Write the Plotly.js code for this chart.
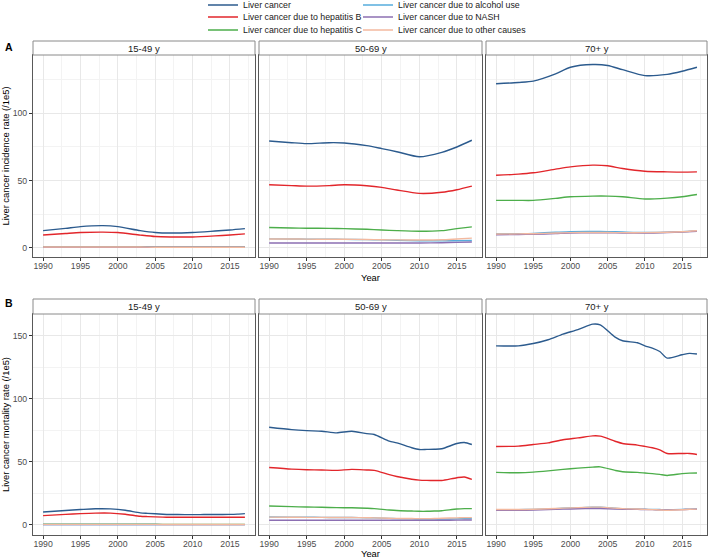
<!DOCTYPE html>
<html>
<head>
<meta charset="utf-8">
<script src="https://cdn.plot.ly/plotly-3.0.1.min.js"></script>
<style>html,body{margin:0;padding:0;background:#fff;}#chart{width:709px;height:559px;}</style>
</head>
<body>
<div id="chart"></div>
<script>
// ---------- DATA ----------
const seriesNames = ["Liver cancer", "Liver cancer due to hepatitis B", "Liver cancer due to hepatitis C",
  "Liver cancer due to alcohol use", "Liver cancer due to NASH", "Liver cancer due to other causes"];
const ageGroups = ["15-49 y", "50-69 y", "70+ y"];
const xTickLabels = [1990, 1995, 2000, 2005, 2010, 2015];

// Panel A (incidence) sampled years
const yearsA = [1990, 1993, 1995, 1998, 2000, 2003, 2005, 2007, 2010, 2013, 2015, 2017];
// 15-49 y
const incA1_liver = [12.8, 14.5, 15.8, 16.5, 15.8, 12.8, 11.4, 11.0, 11.4, 12.5, 13.3, 14.3];
const incA1_hepB  = [9.6, 10.7, 11.4, 11.7, 11.4, 9.5, 8.4, 8.1, 8.1, 8.9, 9.6, 10.4];
const incA1_hepC  = [0.8, 0.85, 0.9, 0.9, 0.9, 0.8, 0.7, 0.7, 0.7, 0.7, 0.7, 0.7];
const incA1_alc   = [0.5, 0.5, 0.5, 0.5, 0.5, 0.5, 0.4, 0.4, 0.4, 0.4, 0.4, 0.4];
const incA1_nash  = [0.4, 0.4, 0.4, 0.4, 0.4, 0.4, 0.4, 0.4, 0.4, 0.4, 0.4, 0.4];
const incA1_other = [0.6, 0.6, 0.6, 0.6, 0.6, 0.6, 0.5, 0.5, 0.5, 0.5, 0.5, 0.5];
// 50-69 y
const incA2_liver = [79.5, 78.2, 77.5, 78.2, 78.0, 76.0, 73.8, 71.5, 67.7, 71.0, 75.0, 80.0];
const incA2_hepB  = [46.9, 46.3, 45.9, 46.3, 46.9, 46.2, 45.0, 43.0, 40.5, 41.3, 43.2, 45.9];
const incA2_hepC  = [15.1, 14.8, 14.6, 14.5, 14.3, 13.8, 13.3, 12.8, 12.3, 12.8, 14.3, 15.6];
const incA2_alc   = [6.7, 6.6, 6.5, 6.4, 6.3, 6.1, 5.9, 5.6, 5.3, 5.2, 5.3, 5.5];
const incA2_nash  = [3.6, 3.6, 3.6, 3.6, 3.6, 3.6, 3.6, 3.6, 3.6, 3.8, 4.1, 4.4];
const incA2_other = [6.6, 6.6, 6.5, 6.4, 6.4, 6.2, 6.0, 5.9, 5.8, 6.0, 6.6, 7.2];
// 70+ y
const incA3_liver = [122.0, 123.0, 124.0, 129.4, 134.3, 136.3, 135.6, 132.5, 128.1, 129.0, 131.3, 134.3];
const incA3_hepB  = [54.0, 54.8, 55.8, 58.5, 60.2, 61.5, 61.0, 59.0, 57.0, 56.5, 56.3, 56.5];
const incA3_hepC  = [35.3, 35.3, 35.3, 36.8, 38.0, 38.5, 38.5, 38.0, 36.3, 37.0, 38.0, 39.7];
const incA3_alc   = [10.5, 10.6, 10.8, 11.6, 12.1, 12.2, 12.1, 11.8, 11.4, 11.6, 12.0, 12.6];
const incA3_nash  = [9.8, 9.9, 10.1, 10.6, 11.0, 11.2, 11.2, 11.1, 11.0, 11.4, 11.8, 12.4];
const incA3_other = [10.3, 10.4, 10.5, 11.0, 11.3, 11.4, 11.4, 11.3, 11.3, 11.6, 12.0, 12.7];

// Panel B (mortality) sampled years
const yearsB = [1990, 1993, 1995, 1997, 1999, 2001, 2003, 2004, 2006, 2007, 2009, 2010, 2011, 2012, 2013, 2015, 2016, 2017];
// 15-49 y
const morB1_liver = [10.3, 11.5, 12.2, 12.8, 12.7, 11.6, 9.6, 9.2, 8.5, 8.3, 8.2, 8.2, 8.2, 8.3, 8.3, 8.4, 8.6, 9.0];
const morB1_hepB  = [7.4, 8.4, 9.0, 9.4, 9.4, 8.5, 6.9, 6.6, 6.2, 6.1, 6.1, 6.1, 6.1, 6.1, 6.1, 6.1, 6.1, 6.1];
const morB1_hepC  = [0.6, 0.6, 0.6, 0.6, 0.6, 0.6, 0.6, 0.6, 0.5, 0.5, 0.5, 0.5, 0.5, 0.5, 0.5, 0.5, 0.5, 0.5];
const morB1_alc   = [0.4, 0.4, 0.4, 0.4, 0.4, 0.4, 0.4, 0.4, 0.3, 0.3, 0.3, 0.3, 0.3, 0.3, 0.3, 0.3, 0.3, 0.3];
const morB1_nash  = [0.3, 0.3, 0.3, 0.3, 0.3, 0.3, 0.3, 0.3, 0.3, 0.3, 0.3, 0.3, 0.3, 0.3, 0.3, 0.3, 0.3, 0.3];
const morB1_other = [0.5, 0.5, 0.5, 0.5, 0.5, 0.5, 0.5, 0.5, 0.4, 0.4, 0.4, 0.4, 0.4, 0.4, 0.4, 0.4, 0.4, 0.4];
// 50-69 y
const morB2_liver = [77.4, 75.5, 74.7, 74.2, 72.9, 74.2, 72.3, 71.6, 66.3, 65.0, 61.1, 59.7, 59.8, 59.9, 60.3, 64.5, 65.3, 63.7];
const morB2_hepB  = [45.5, 44.2, 43.7, 43.5, 43.2, 44.0, 43.5, 43.2, 39.8, 38.4, 36.2, 35.5, 35.3, 35.2, 35.2, 37.4, 38.0, 36.1];
const morB2_hepC  = [15.0, 14.5, 14.2, 14.0, 13.7, 13.6, 13.2, 12.9, 11.8, 11.4, 11.0, 10.8, 10.8, 11.0, 11.3, 12.6, 12.9, 12.9];
const morB2_alc   = [6.3, 6.2, 6.1, 6.0, 5.9, 5.9, 5.7, 5.6, 5.2, 5.0, 4.8, 4.6, 4.6, 4.6, 4.6, 4.8, 5.0, 5.1];
const morB2_nash  = [3.7, 3.7, 3.7, 3.7, 3.7, 3.7, 3.7, 3.7, 3.7, 3.7, 3.7, 3.7, 3.7, 3.7, 3.7, 3.8, 3.9, 3.9];
const morB2_other = [6.2, 6.1, 6.0, 6.0, 5.9, 5.9, 5.7, 5.6, 5.3, 5.2, 5.1, 5.0, 5.0, 5.1, 5.3, 5.6, 5.8, 5.8];
// 70+ y
const morB3_liver = [141.8, 141.8, 143.6, 146.6, 151.1, 154.7, 159.0, 158.4, 148.7, 145.8, 144.2, 141.8, 140.0, 137.3, 132.1, 134.7, 135.8, 135.3];
const morB3_hepB  = [62.1, 62.4, 63.7, 65.0, 67.5, 68.9, 70.5, 70.3, 66.3, 64.5, 63.2, 62.2, 61.1, 59.5, 56.6, 56.6, 56.6, 55.8];
const morB3_hepC  = [41.6, 41.3, 41.8, 42.8, 44.0, 45.0, 45.8, 46.0, 43.2, 42.1, 41.6, 41.1, 40.6, 40.0, 39.2, 40.6, 41.0, 41.1];
const morB3_alc   = [12.0, 12.1, 12.3, 12.7, 13.2, 13.6, 14.0, 14.0, 13.2, 12.8, 12.6, 12.4, 12.3, 12.2, 12.1, 12.3, 12.5, 12.6];
const morB3_nash  = [11.6, 11.6, 11.8, 12.1, 12.5, 12.8, 13.0, 13.0, 12.6, 12.4, 12.3, 12.2, 12.1, 12.0, 11.9, 12.1, 12.3, 12.4];
const morB3_other = [12.2, 12.2, 12.4, 12.8, 13.3, 13.7, 14.1, 14.1, 13.3, 12.9, 12.6, 12.3, 12.1, 11.9, 11.7, 12.0, 12.4, 12.5];

// ---------- STYLE ----------
const colors = ["#2c5b8e", "#e2262b", "#4dae4b", "#56acdc", "#8c6fb2", "#f3b99f"];
const legendIds = ["legend", "legend2", "legend3", "legend4", "legend5", "legend6"];
const FONT = "Liberation Sans, Arial, Helvetica, sans-serif";

const panels = [
  {years: yearsA, data: [incA1_liver, incA1_hepB, incA1_hepC, incA1_alc, incA1_nash, incA1_other], ax: 1},
  {years: yearsA, data: [incA2_liver, incA2_hepB, incA2_hepC, incA2_alc, incA2_nash, incA2_other], ax: 2},
  {years: yearsA, data: [incA3_liver, incA3_hepB, incA3_hepC, incA3_alc, incA3_nash, incA3_other], ax: 3},
  {years: yearsB, data: [morB1_liver, morB1_hepB, morB1_hepC, morB1_alc, morB1_nash, morB1_other], ax: 4},
  {years: yearsB, data: [morB2_liver, morB2_hepB, morB2_hepC, morB2_alc, morB2_nash, morB2_other], ax: 5},
  {years: yearsB, data: [morB3_liver, morB3_hepB, morB3_hepC, morB3_alc, morB3_nash, morB3_other], ax: 6}
];

const traces = [];
panels.forEach(function (p) {
  p.data.forEach(function (vals, i) {
    traces.push({
      type: "scatter", mode: "lines",
      x: p.years, y: vals,
      name: seriesNames[i],
      xaxis: "x" + (p.ax === 1 ? "" : p.ax),
      yaxis: "y" + (p.ax === 1 ? "" : p.ax),
      line: {color: colors[i], width: 1.4, shape: "spline", smoothing: 0.7},
      showlegend: p.ax === 1,
      legend: legendIds[i],
      hoverinfo: "x+y+name"
    });
  });
});

// ---------- LAYOUT ----------
const W = 709, H = 559;
function px(x) { return x / W; }
function py(y) { return 1 - y / H; }
const colPx = [[33, 255], [259, 482], [486, 707]];
const rowPx = [[55, 257], [314, 535]];   // plot area top/bottom
const stripPx = [[41, 55], [299, 314]];

const TICKFONT = {family: FONT, size: 8.7, color: "#4d4d4d"};
const TITLEFONT = {family: FONT, size: 9.4, color: "#000000"};

const xBase = {
  range: [1988.65, 2018.35], tickmode: "array", tickvals: xTickLabels, ticktext: xTickLabels.map(String),
  ticks: "outside", ticklen: 3, tickwidth: 1, tickcolor: "#333333", ticklabelstandoff: -3,
  tickfont: TICKFONT,
  showgrid: true, gridcolor: "#e8e8e8", gridwidth: 1,
  minor: {tickmode: "array", tickvals: [1992.5, 1997.5, 2002.5, 2007.5, 2012.5, 2017.5], showgrid: true, gridcolor: "#f3f3f3", gridwidth: 0.6, ticks: ""},
  showline: true, mirror: true, linecolor: "#595959", linewidth: 1.2, zeroline: false, fixedrange: true
};
function yBase(range, vals, minorVals) {
  return {
    range: range, tickmode: "array", tickvals: vals, ticktext: vals.map(String),
    ticks: "outside", ticklen: 3, tickwidth: 1, tickcolor: "#333333",
    tickfont: TICKFONT,
    showgrid: true, gridcolor: "#e8e8e8", gridwidth: 1,
    minor: {tickmode: "array", tickvals: minorVals, showgrid: true, gridcolor: "#f3f3f3", gridwidth: 0.6, ticks: ""},
    showline: true, mirror: true, linecolor: "#595959", linewidth: 1.2, zeroline: false, fixedrange: true
  };
}
const yTicksA = [0, 50, 100], yMinorA = [25, 75, 125];
const yTicksB = [0, 50, 100, 150], yMinorB = [25, 75, 125];
const yRangeA = [-6.8, 143.4], yRangeB = [-7.95, 167.0];

const layout = {
  width: W, height: H,
  margin: {l: 0, r: 0, t: 0, b: 0, autoexpand: false},
  paper_bgcolor: "#ffffff", plot_bgcolor: "#ffffff",
  font: {family: FONT, size: 10, color: "#1a1a1a"},
  hovermode: "closest",
  shapes: [], annotations: []
};

for (let r = 0; r < 2; r++) {
  for (let c = 0; c < 3; c++) {
    const n = r * 3 + c + 1;
    const xs = "xaxis" + (n === 1 ? "" : n);
    const ys = "yaxis" + (n === 1 ? "" : n);
    const xa = JSON.parse(JSON.stringify(xBase));
    xa.domain = [px(colPx[c][0]), px(colPx[c][1])];
    xa.anchor = "y" + (n === 1 ? "" : n);
    const ya = r === 0 ? yBase(yRangeA, yTicksA, yMinorA) : yBase(yRangeB, yTicksB, yMinorB);
    ya.domain = [py(rowPx[r][1]), py(rowPx[r][0])];
    ya.anchor = "x" + (n === 1 ? "" : n);
    if (c > 0) { ya.showticklabels = false; ya.ticks = ""; }
    if (c === 0) {
      ya.title = {text: r === 0 ? "Liver cancer incidence rate (/1e5)" : "Liver cancer mortality rate (/1e5)",
                  font: TITLEFONT, standoff: 5};
    }
    if (c === 1) {
      xa.title = {text: "Year", font: TITLEFONT, standoff: 4};
    }
    layout[xs] = xa;
    layout[ys] = ya;
    // strip
    layout.shapes.push({type: "rect", xref: "paper", yref: "paper",
      x0: px(colPx[c][0]), x1: px(colPx[c][1]), y0: py(stripPx[r][1]), y1: py(stripPx[r][0]),
      fillcolor: "#ffffff", line: {color: "#8a8a8a", width: 1}, layer: "above"});
    layout.annotations.push({xref: "paper", yref: "paper",
      x: px((colPx[c][0] + colPx[c][1]) / 2), y: py((stripPx[r][0] + stripPx[r][1]) / 2),
      xanchor: "center", yanchor: "middle", text: ageGroups[c], showarrow: false,
      font: {family: FONT, size: 9.5, color: "#1a1a1a"}});
  }
}
layout.annotations.push({xref: "paper", yref: "paper", x: px(3), y: py(47), xanchor: "left", yanchor: "middle",
  text: "<b>A</b>", showarrow: false, font: {family: FONT, size: 10.5, color: "#000"}});
layout.annotations.push({xref: "paper", yref: "paper", x: px(3), y: py(303), xanchor: "left", yanchor: "middle",
  text: "<b>B</b>", showarrow: false, font: {family: FONT, size: 10.5, color: "#000"}});

// legend: two columns x three rows, one legend box per entry
const legBase = {orientation: "v", xanchor: "left", yanchor: "middle", bgcolor: "rgba(0,0,0,0)",
  font: {family: FONT, size: 8.8, color: "#1a1a1a"}, itemwidth: 30,
  itemclick: false, itemdoubleclick: false};
const legCols = [203, 358];
const legRows = [5, 17, 30];
legendIds.forEach(function (id, i) {
  const col = i < 3 ? 0 : 1;
  const row = i % 3;
  layout[id] = Object.assign({}, legBase, {x: px(legCols[col]), y: py(legRows[row])});
});

Plotly.newPlot("chart", traces, layout, {displayModeBar: false});
</script>
</body>
</html>
